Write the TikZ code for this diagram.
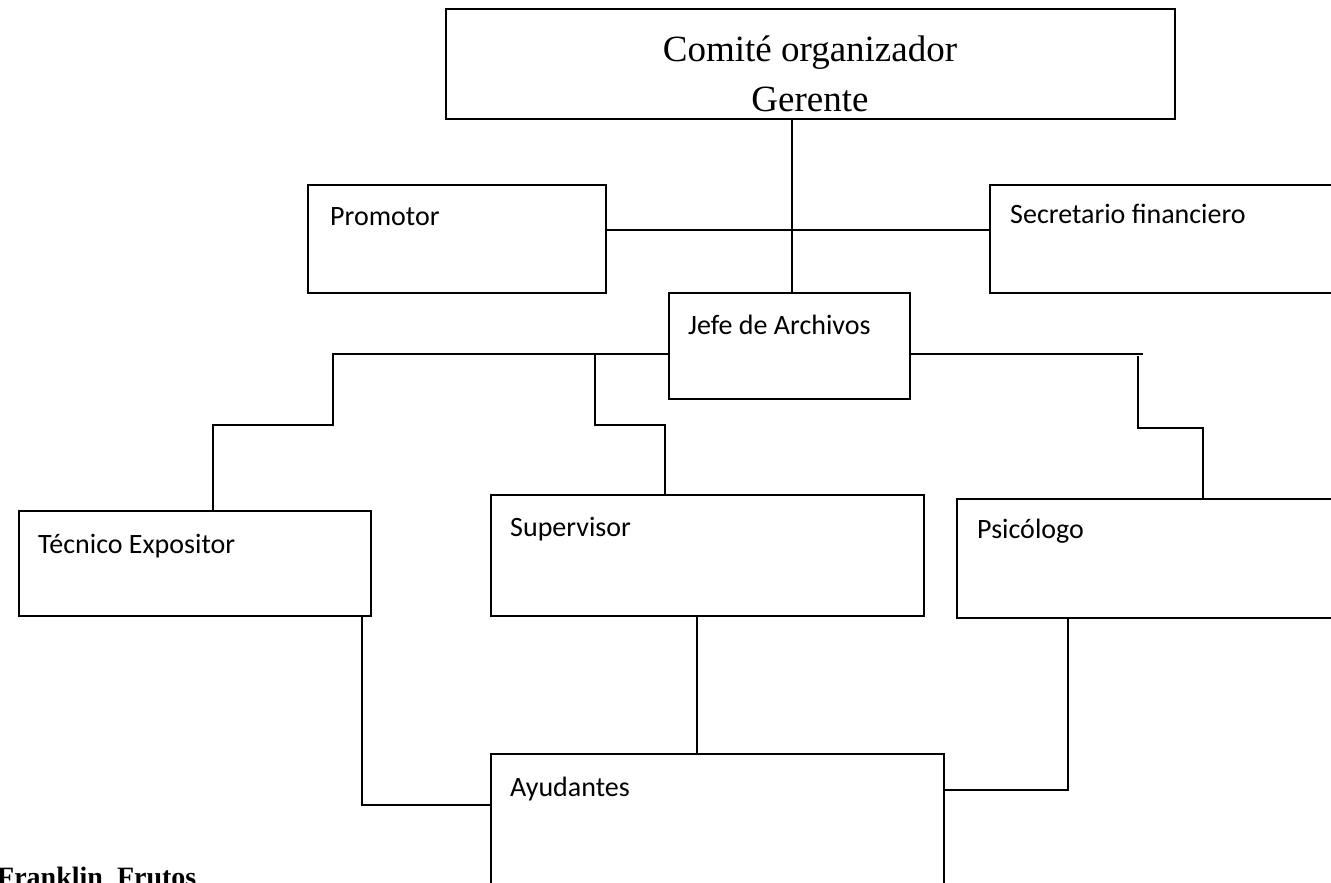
\documentclass[tikz,border=0pt]{standalone}
\usepackage{fontspec}
\setmainfont{Liberation Serif}
\newfontfamily\calfont{Carlito}
\begin{document}
\begin{tikzpicture}[x=1pt,y=-1pt,
  box/.style={draw, line width=1.8pt, rectangle, anchor=north west, inner sep=0pt},
  lbl/.style={font=\calfont\fontsize{28}{32}\selectfont, anchor=base west, inner sep=0pt},
  big/.style={font=\fontsize{37}{40}\selectfont, anchor=base, inner sep=0pt},
  wire/.style={line width=1.8pt, line cap=rect}]
\useasboundingbox (0,0) rectangle (1331,883);
% boxes
\node[box, minimum width=729pt, minimum height=110pt] (top) at (445,8) {};
\node[box, minimum width=298pt, minimum height=108pt] (prom) at (307,184) {};
\node[box, minimum width=370pt, minimum height=108pt] (sec) at (989,184) {};
\node[box, minimum width=241pt, minimum height=106pt] (jefe) at (668,292) {};
\node[box, minimum width=352pt, minimum height=105pt] (tec) at (18,510) {};
\node[box, minimum width=433pt, minimum height=121pt] (sup) at (490,494) {};
\node[box, minimum width=400pt, minimum height=119pt] (psi) at (956,498) {};
\node[box, minimum width=453pt, minimum height=160pt] (ayu) at (490,753) {};
% labels
\node[big] (t1) at (810,62) {Comité organizador};
\node[big] (t2) at (810,111) {Gerente};
\node[lbl] (lprom) at (330,225) {Promotor};
\node[lbl] (lsec) at (1010,223) {Secretario financiero};
\node[lbl] (ljefe) at (688,334) {Jefe de Archivos};
\node[lbl] (ltec) at (38,553) {Técnico Expositor};
\node[lbl] (lsup) at (510,536) {Supervisor};
\node[lbl] (lpsi) at (977,538) {Psicólogo};
\node[lbl] (layu) at (510,796) {Ayudantes};
\node[font=\bfseries\fontsize{28}{30}\selectfont, anchor=base west, inner sep=0pt] (name) at (-3,886) {Franklin\ \ Frutos};
% connectors
\coordinate (g) at (792,0);
\draw[wire] (g |- top.south) -- (g |- jefe.north);
\coordinate (h) at (0,230);
\draw[wire] (prom.east |- h) -- (sec.west |- h);
\coordinate (r1) at (0,354);
\coordinate (a) at (333,0);
\coordinate (b) at (595,0);
\coordinate (r2) at (0,425);
\coordinate (tx) at (213,0);
\coordinate (sx) at (665,0);
\draw[wire] (jefe.west |- r1) -- (a |- r1) -- (a |- r2) -- (tx |- r2) -- (tx |- tec.north);
\draw[wire] (b |- r1) -- (b |- r2) -- (sx |- r2) -- (sx |- sup.north);
\coordinate (re) at (1142,354);
\draw[wire] (jefe.east |- r1) -- (re);
\coordinate (c) at (1138,357);
\coordinate (r3) at (0,428);
\coordinate (px) at (1203,0);
\draw[wire] (c) -- (c |- r3) -- (px |- r3) -- (px |- psi.north);
\coordinate (d) at (362,0);
\coordinate (r4) at (0,805);
\draw[wire] (d |- tec.south) -- (d |- r4) -- (ayu.west |- r4);
\coordinate (e) at (697,0);
\draw[wire] (e |- sup.south) -- (e |- ayu.north);
\coordinate (f) at (1068,0);
\coordinate (r5) at (0,790);
\draw[wire] (f |- psi.south) -- (f |- r5) -- (ayu.east |- r5);
\end{tikzpicture}
\end{document}
